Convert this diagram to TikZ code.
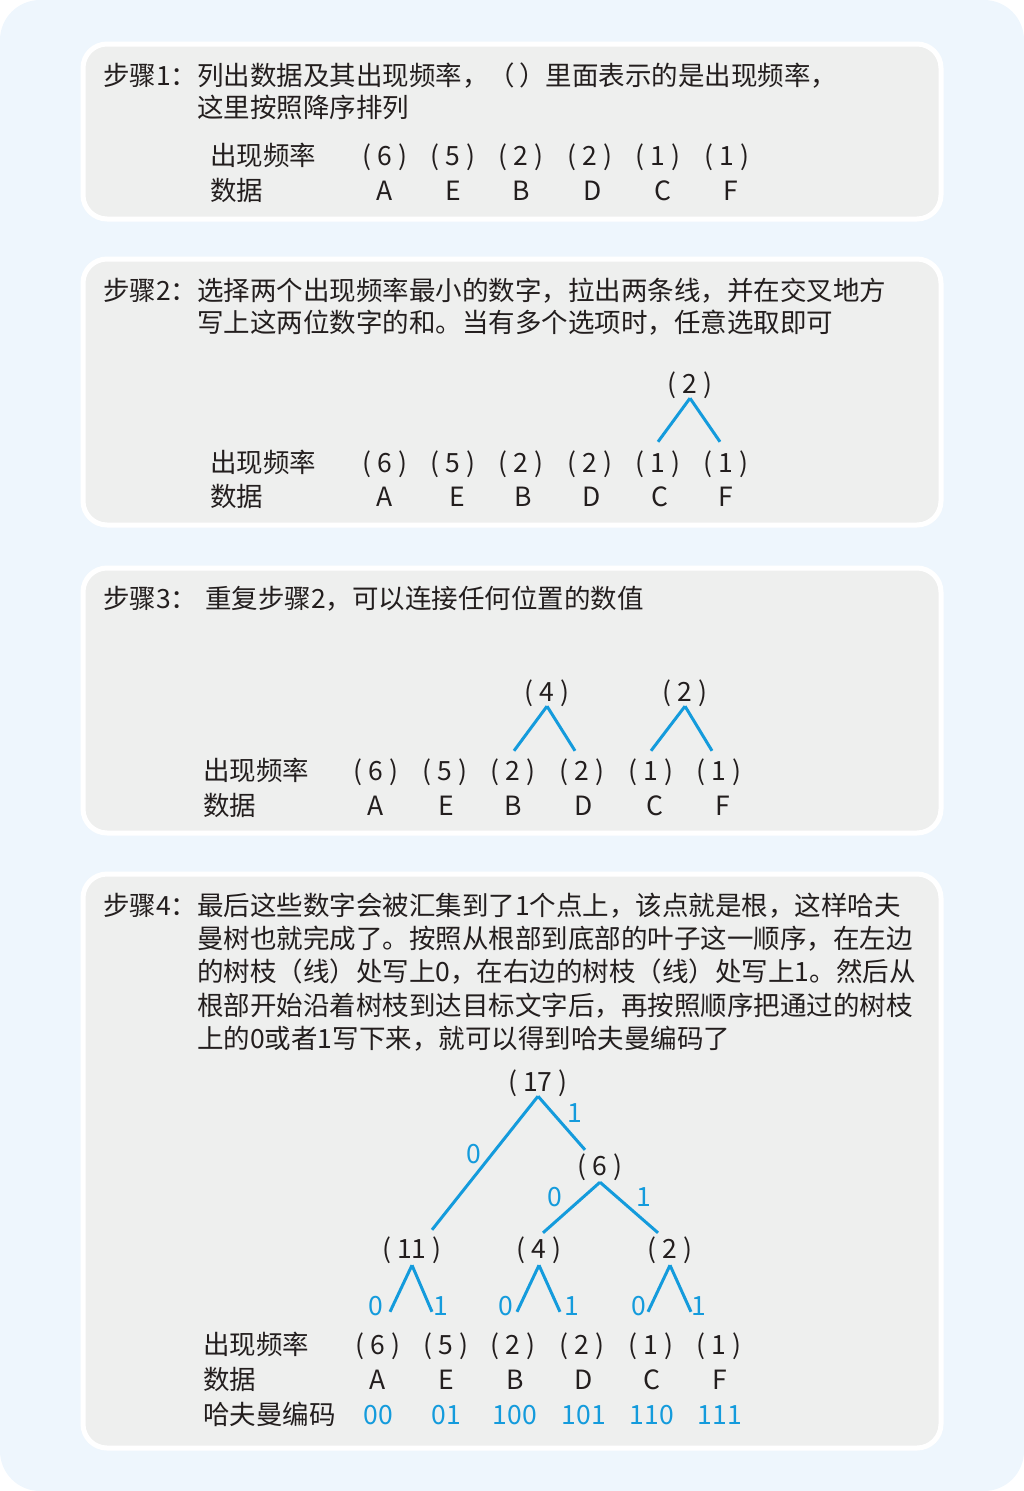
\documentclass[tikz,border=0pt]{standalone}
\usepackage{fontspec}
\setmainfont{Noto Sans CJK SC}
\definecolor{bgblue}{RGB}{238,246,253}
\definecolor{panelgray}{RGB}{238,239,238}
\definecolor{inkgray}{RGB}{35,30,30}
\definecolor{treeblue}{RGB}{20,155,220}
\newcommand{\freq}[1]{(\hspace{6pt}#1\hspace{6pt})}
\begin{document}
\begin{tikzpicture}[x=1pt,y=-1pt,
  panel/.style={draw=white,line width=5pt,fill=panelgray,rounded corners=24pt},
  txt/.style={inner sep=0pt,text=inkgray,font=\fontsize{26.5}{33}\selectfont},
  line/.style={txt,anchor=base west},
  val/.style={txt,anchor=base,text height=20pt,text depth=7pt},
  bit/.style={txt,text=treeblue,text height=19pt,text depth=0pt},
  branch/.style={draw=treeblue,line width=3pt}]
\useasboundingbox (0,0) rectangle (1024,1491);
\fill[bgblue,rounded corners=40pt] (0,0) rectangle (1024,1491);
\draw[panel] (83,44) rectangle (941,219);
\draw[panel] (83,259) rectangle (941,525);
\draw[panel] (83,568) rectangle (941,833);
\draw[panel] (83,874) rectangle (941,1448);
% step 1
\node[line] (s1h) at (103,85) {步骤1：};
\node[line] (s1a) at (197,85) {列出数据及其出现频率，（\hspace{4pt}）里面表示的是出现频率，};
\node[line] (s1b) at (197,117) {这里按照降序排列};
\node[line] (s1f) at (210,165) {出现频率};
\node[line] (s1d) at (210,200) {数据};
\foreach \x/\xx/\v/\n [count=\i] in {385/385/6/A, 453/453/5/E, 521/521/2/B, 590/593/2/D, 658/663/1/C, 727/731/1/F}{
  \node[val] (s1v\i) at (\x,165) {\freq{\v}};
  \node[txt,anchor=base] (s1c\i) at (\xx,200) {\n};
}
% step 2
\node[line] (s2h) at (103,300) {步骤2：};
\node[line] (s2a) at (197,300) {选择两个出现频率最小的数字，拉出两条线，并在交叉地方};
\node[line] (s2b) at (197,332) {写上这两位数字的和。当有多个选项时，任意选取即可};
\node[line] (s2f) at (210,472) {出现频率};
\node[line] (s2d) at (210,506) {数据};
\foreach \x/\xx/\v/\n [count=\i] in {385/385/6/A, 453/457/5/E, 521/523/2/B, 590/592/2/D, 658/660/1/C, 726/726/1/F}{
  \node[val] (s2v\i) at (\x,472) {\freq{\v}};
  \node[txt,anchor=base] (s2c\i) at (\xx,506) {\n};
}
\node[val] (s2p) at (690,393) {\freq{2}};
\draw[branch] ([yshift=2pt]s2p.south) -- ([shift={(0,-10)}]s2v5.north);
\draw[branch] ([yshift=2pt]s2p.south) -- ([shift={(-6,-10)}]s2v6.north);
% step 3
\node[line] (s3h) at (103,608) {步骤3：};
\node[line] (s3a) at (205,608) {重复步骤2，可以连接任何位置的数值};
\node[line] (s3f) at (203,780) {出现频率};
\node[line] (s3d) at (203,815) {数据};
\foreach \x/\xx/\v/\n [count=\i] in {376/376/6/A, 445/446/5/E, 513/513/2/B, 582/584/2/D, 651/655/1/C, 719/723/1/F}{
  \node[val] (s3v\i) at (\x,780) {\freq{\v}};
  \node[txt,anchor=base] (s3c\i) at (\xx,815) {\n};
}
\node[val] (s3p4) at (547,701) {\freq{4}};
\node[val] (s3p2) at (685,701) {\freq{2}};
\draw[branch] ([yshift=2pt]s3p4.south) -- ([shift={(1,-9)}]s3v3.north);
\draw[branch] ([yshift=2pt]s3p4.south) -- ([shift={(-7,-9)}]s3v4.north);
\draw[branch] ([yshift=2pt]s3p2.south) -- ([shift={(0,-9)}]s3v5.north);
\draw[branch] ([yshift=2pt]s3p2.south) -- ([shift={(-7,-9)}]s3v6.north);
% step 4
\node[line] (s4h) at (103,915) {步骤4：};
\node[line] (s4a) at (197,915) {最后这些数字会被汇集到了1个点上，该点就是根，这样哈夫};
\node[line] (s4b) at (197,948) {曼树也就完成了。按照从根部到底部的叶子这一顺序，在左边};
\node[line] (s4c) at (197,981) {的树枝（线）处写上0，在右边的树枝（线）处写上1。然后从};
\node[line] (s4d) at (197,1015) {根部开始沿着树枝到达目标文字后，再按照顺序把通过的树枝};
\node[line] (s4e) at (197,1048) {上的0或者1写下来，就可以得到哈夫曼编码了};
\node[line] (s4f) at (203,1354) {出现频率};
\node[line] (s4g) at (203,1389) {数据};
\node[line] (s4k) at (203,1424) {哈夫曼编码};
\foreach \x/\xx/\v/\n/\c [count=\i] in {378/378/6/A/00, 446/446/5/E/01, 513/515/2/B/100, 582/584/2/D/101, 651/652/1/C/110, 719/720/1/F/111}{
  \node[val] (s4v\i) at (\x,1354) {\freq{\v}};
  \node[txt,anchor=base] (s4c\i) at (\xx,1389) {\n};
  \node[txt,anchor=base,text=treeblue] (s4e\i) at (\xx,1424) {\c};
}
\node[val] (r17) at (538,1091) {\freq{17}};
\node[val] (n6) at (600,1175) {\freq{6}};
\node[val] (n11) at (412,1258) {\freq{11}};
\node[val] (n4) at (539,1258) {\freq{4}};
\node[val] (n2) at (670,1258) {\freq{2}};
\draw[branch] ([yshift=2pt]r17.south) -- ([shift={(20,-8)}]n11.north);
\draw[branch] ([yshift=2pt]r17.south) -- ([shift={(-15,-5)}]n6.north);
\draw[branch] (n6.south) -- ([shift={(4,-5)}]n4.north);
\draw[branch] (n6.south) -- ([shift={(-12,-5)}]n2.north);
\draw[branch] (n11.south) -- ([shift={(12,-22)}]s4v1.north);
\draw[branch] (n11.south) -- ([shift={(-14,-22)}]s4v2.north);
\draw[branch] (n4.south) -- ([shift={(4,-22)}]s4v3.north);
\draw[branch] (n4.south) -- ([shift={(-22,-22)}]s4v4.north);
\draw[branch] (n2.south) -- ([shift={(-3,-22)}]s4v5.north);
\draw[branch] (n2.south) -- ([shift={(-28,-22)}]s4v6.north);
\node[bit] (b1) at (474,1154) {0};
\node[bit] (b2) at (575,1113) {1};
\node[bit] (b3) at (555,1197) {0};
\node[bit] (b4) at (644,1197) {1};
\foreach \x/\b [count=\i] in {376/0, 441/1, 506/0, 572/1, 639/0, 699/1}
  \node[bit] (bl\i) at (\x,1306) {\b};
\end{tikzpicture}
\end{document}
